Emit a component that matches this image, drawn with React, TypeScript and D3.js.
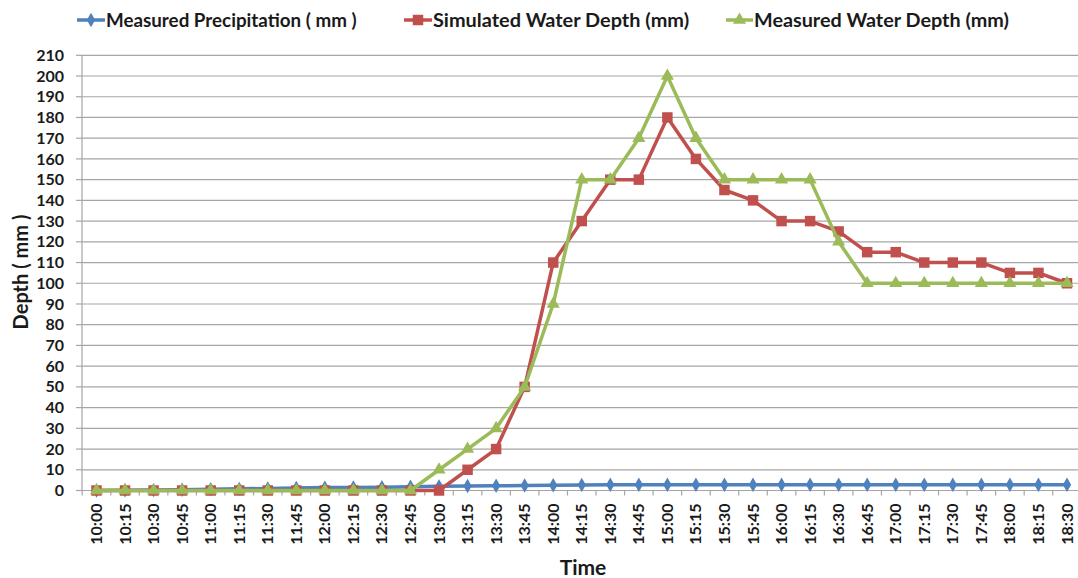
import React from "react";
import * as d3 from "d3";

const times = [
  "10:00", "10:15", "10:30", "10:45", "11:00", "11:15", "11:30", "11:45",
  "12:00", "12:15", "12:30", "12:45", "13:00", "13:15", "13:30", "13:45",
  "14:00", "14:15", "14:30", "14:45", "15:00", "15:15", "15:30", "15:45",
  "16:00", "16:15", "16:30", "16:45", "17:00", "17:15", "17:30", "17:45",
  "18:00", "18:15", "18:30",
];

const precipitation = [
  0, 0.1, 0.2, 0.4, 0.6, 0.8, 1.0, 1.2, 1.4, 1.5, 1.6, 1.8, 2.0, 2.2, 2.3, 2.4,
  2.5, 2.7, 2.8, 2.8, 2.8, 2.8, 2.8, 2.8, 2.8, 2.8, 2.8, 2.8, 2.8, 2.8, 2.8, 2.8,
  2.8, 2.8, 2.8,
];

const simulatedDepth = [
  0, 0, 0, 0, 0, 0, 0, 0, 0, 0, 0, 0, 0, 10, 20, 50,
  110, 130, 150, 150, 180, 160, 145, 140, 130, 130, 125, 115, 115, 110, 110, 110,
  105, 105, 100,
];

const measuredDepth = [
  0, 0, 0, 0, 0, 0, 0, 0, 0, 0, 0, 0, 10, 20, 30, 50,
  90, 150, 150, 170, 200, 170, 150, 150, 150, 150, 120, 100, 100, 100, 100, 100,
  100, 100, 100,
];

const yTicks = d3.range(0, 211, 10);

const seriesNames = [
  "Measured Precipitation ( mm )",
  "Simulated Water Depth (mm)",
  "Measured Water Depth (mm)",
];

const BLUE = "#4F81BD";
const RED = "#C0504D";
const GREEN = "#9BBB59";
const FONT = "Lato, 'Noto Sans', sans-serif";

export default function App() {
  const W = 1078;
  const H = 578;
  const left = 82;
  const right = 1083;
  const top = 55.3;
  const bottom = 490.5;

  const x = d3.scalePoint<string>().domain(times).range([96.5, 1067]);
  const step = x.step();
  const y = d3.scaleLinear().domain([0, 210]).range([bottom, top]);

  const line = d3
    .line<number>()
    .x((_, i) => x(times[i]) as number)
    .y((d) => y(d));

  const diamond = d3.symbol().type(d3.symbolDiamond).size(60)() as string;
  const square = d3.symbol().type(d3.symbolSquare).size(110)() as string;
  const triangle = d3.symbol().type(d3.symbolTriangle).size(75)() as string;

  const series = [
    { name: seriesNames[0], values: precipitation, color: BLUE, marker: diamond },
    { name: seriesNames[1], values: simulatedDepth, color: RED, marker: square },
    { name: seriesNames[2], values: measuredDepth, color: GREEN, marker: triangle },
  ];

  const legend = [
    { x1: 77, x2: 105, tx: 106, size: 18.8 },
    { x1: 404, x2: 432, tx: 433, size: 19.9 },
    { x1: 726, x2: 753, tx: 754, size: 19.8 },
  ];

  return (
    <svg
      width={W}
      height={H}
      style={{ position: "absolute", left: 0, top: 0, background: "#fff" }}
      fontFamily={FONT}
    >
      {/* horizontal gridlines and y ticks */}
      {yTicks.map((t) => (
        <g key={t}>
          {t > 0 && (
            <line x1={left} x2={right} y1={y(t)} y2={y(t)} stroke="#a6a6a6" strokeWidth={1.2} />
          )}
          <line x1={left - 6} x2={left} y1={y(t)} y2={y(t)} stroke="#a6a6a6" strokeWidth={1.2} />
          <text
            x={64}
            y={y(t)}
            dy="0.35em"
            textAnchor="end"
            fontSize={16}
            fontWeight={700}
            fill="#1a1a1a"
          >
            {t}
          </text>
        </g>
      ))}

      {/* axes */}
      <line x1={left} x2={left} y1={top} y2={bottom} stroke="#a6a6a6" strokeWidth={1.2} />
      <line x1={left} x2={right} y1={bottom} y2={bottom} stroke="#a6a6a6" strokeWidth={1.2} />
      {times.map((t) => (
        <line
          key={"tk" + t}
          x1={(x(t) as number) - step / 2}
          x2={(x(t) as number) - step / 2}
          y1={bottom}
          y2={bottom + 5}
          stroke="#a6a6a6"
          strokeWidth={1.2}
        />
      ))}

      {/* x labels */}
      {times.map((t) => (
        <text
          key={"lb" + t}
          transform={`translate(${(x(t) as number) + 5.5},${bottom + 13}) rotate(-90)`}
          textAnchor="end"
          fontSize={16}
          fontWeight={700}
          fill="#1a1a1a"
        >
          {t}
        </text>
      ))}

      {/* series */}
      {series.map((s) => (
        <g key={s.name}>
          <path d={line(s.values) as string} fill="none" stroke={s.color} strokeWidth={3.5} strokeLinejoin="round" />
          {s.values.map((v, i) => (
            <path
              key={i}
              d={s.marker}
              transform={`translate(${x(times[i])},${y(v)})`}
              fill={s.color}
            />
          ))}
        </g>
      ))}

      {/* axis titles */}
      <text x={583} y={575} textAnchor="middle" fontSize={21} fontWeight={700} fill="#1a1a1a">
        Time
      </text>
      <text
        transform="translate(28,272) rotate(-90)"
        textAnchor="middle"
        fontSize={20}
        fontWeight={700}
        fill="#1a1a1a"
      >
        Depth ( mm )
      </text>

      {/* legend */}
      {series.map((s, i) => (
        <g key={"lg" + i}>
          <line x1={legend[i].x1} x2={legend[i].x2} y1={20} y2={20} stroke={s.color} strokeWidth={3.5} />
          <path d={s.marker} transform={`translate(${(legend[i].x1 + legend[i].x2) / 2},20)`} fill={s.color} />
          <text x={legend[i].tx} y={20} dy="0.35em" fontSize={legend[i].size} fontWeight={700} fill="#1a1a1a">
            {s.name}
          </text>
        </g>
      ))}
    </svg>
  );
}
